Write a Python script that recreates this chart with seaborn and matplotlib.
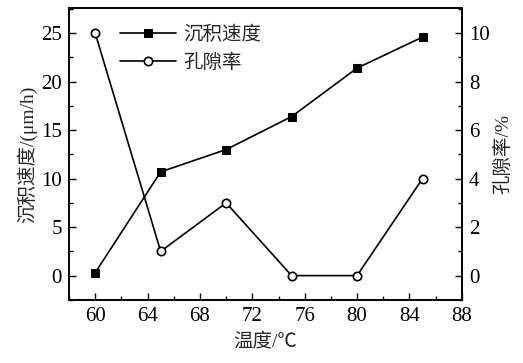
import matplotlib
matplotlib.use("Agg")

import numpy as np
import pandas as pd
import matplotlib.pyplot as plt
import seaborn as sns
from matplotlib.ticker import MultipleLocator

# data
temperature = [60, 65, 70, 75, 80, 85]
deposition_rate = [0.3, 10.7, 13.0, 16.4, 21.4, 24.6]
porosity = [10.0, 1.0, 3.0, 0.0, 0.0, 4.0]

sns.set_theme(style="ticks")
plt.rcParams['font.family'] = ['Liberation Serif', 'Noto Sans CJK SC']
plt.rcParams['axes.unicode_minus'] = False

df = pd.DataFrame({'temp': temperature, 'rate': deposition_rate, 'por': porosity})

fig = plt.figure(figsize=(5.23, 3.63), dpi=100)
ax = fig.add_axes([0.132, 0.174, 0.751, 0.804])
ax2 = ax.twinx()

sns.lineplot(data=df, x='temp', y='rate', ax=ax, color='black', lw=1.2,
             marker='s', markersize=5.5, markeredgecolor='black',
             markerfacecolor='black', label='沉积速度', legend=False)
sns.lineplot(data=df, x='temp', y='por', ax=ax2, color='black', lw=1.2,
             marker='o', markersize=6, markeredgecolor='black',
             markerfacecolor='white', markeredgewidth=1.2,
             label='孔隙率', legend=False)

ax.set_xlim(58, 88)
ax.set_ylim(-2.5, 27.6)
ax2.set_ylim(-1.0, 11.04)

ax.xaxis.set_major_locator(MultipleLocator(4))
ax.xaxis.set_minor_locator(MultipleLocator(2))
ax.yaxis.set_major_locator(MultipleLocator(5))
ax.yaxis.set_minor_locator(MultipleLocator(2.5))
ax2.yaxis.set_major_locator(MultipleLocator(2))
ax2.yaxis.set_minor_locator(MultipleLocator(1))

for a in (ax, ax2):
    a.tick_params(which='both', direction='in', colors='black', labelsize=15)
    a.tick_params(which='major', length=5, width=1, pad=5)
    a.tick_params(which='minor', length=3, width=1)
    for s in a.spines.values():
        s.set_color('black')
        s.set_linewidth(1.2)
ax.tick_params(axis='y', which='both', left=True, right=False)
ax2.tick_params(axis='y', which='both', right=True, left=False)

ax.set_xlabel('温度/℃', fontsize=14, labelpad=5)
ax.set_ylabel('沉积速度/(μm/h)', fontsize=14, labelpad=3)
ax2.set_ylabel('孔隙率/%', fontsize=14, labelpad=3)

h1, l1 = ax.get_legend_handles_labels()
h2, l2 = ax2.get_legend_handles_labels()
ax.legend(h1 + h2, l1 + l2, loc='upper left', bbox_to_anchor=(0.085, 1.0),
          frameon=False, fontsize=14, handlelength=2.9, handletextpad=0.35,
          labelspacing=0.5)

fig.savefig('out.png', dpi=100)
plt.close()
